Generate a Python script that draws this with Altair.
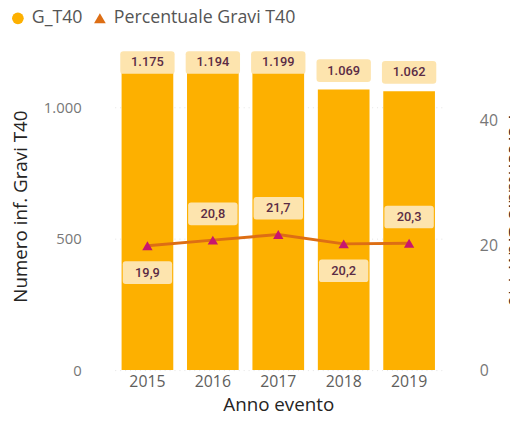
import altair as alt
import pandas as pd

anni = ["2015", "2016", "2017", "2018", "2019"]
g_t40 = [1175, 1194, 1199, 1069, 1062]
perc_gravi = [19.9, 20.8, 21.7, 20.2, 20.3]
serie = ["G_T40", "Percentuale Gravi T40"]

df = pd.DataFrame({"Anno": anni, "G": g_t40, "P": perc_gravi})
leg_df = pd.DataFrame({"Serie": serie})

FONT = "Open Sans"
BAR = "#FDB000"
LINE = "#DD6E14"
TRI = "#C8176E"
BOX = "#FDE4AE"
TXT = "#5B2C45"

box_bar = ("M-0.88,-0.418 L0.88,-0.418 Q1,-0.418 1,-0.3 L1,0.3 Q1,0.418 0.88,0.418 "
           "L-0.88,0.418 Q-1,0.418 -1,0.3 L-1,-0.3 Q-1,-0.418 -0.88,-0.418 Z")
box_line = ("M-0.88,-0.46 L0.88,-0.46 Q1,-0.46 1,-0.34 L1,0.34 Q1,0.46 0.88,0.46 "
            "L-0.88,0.46 Q-1,0.46 -1,0.34 L-1,-0.34 Q-1,-0.46 -0.88,-0.46 Z")

x_enc = alt.X(
    "Anno:O",
    scale=alt.Scale(paddingInner=0.21, paddingOuter=0.105),
    axis=alt.Axis(
        title="Anno evento", labelAngle=0, domain=False, ticks=False,
        labelFont=FONT, labelFontSize=16, labelColor="#605E5C", labelPadding=4,
        titleFont=FONT, titleFontSize=19, titleFontWeight="normal", titleColor="#252423",
        titleY=35, titleBaseline="middle",
    ),
)

axis_left = alt.Axis(
    values=[0, 500, 1000],
    labelExpr="replace(format(datum.value, ','), ',', '.')",
    domain=False, ticks=False, grid=True, gridColor="#e4e4e4", gridDash=[1, 4],
    labelFont=FONT, labelFontSize=15, labelColor="#777777", labelPadding=34,
    titleFont=FONT, titleFontSize=19, titleFontWeight="normal", titleColor="#252423",
    titleX=-95, titleY=166, titleAngle=-90, titleAlign="center", titleBaseline="middle",
)
left_scale = alt.Scale(domain=[0, 1250])
TL = "Numero inf. Gravi T40"

base = alt.Chart(df).encode(x=x_enc)

bars = base.mark_bar(color=BAR).encode(
    y=alt.Y("G:Q", scale=left_scale, axis=axis_left, title=TL)
)

bar_lab = base.transform_calculate(
    lab="min(datum.G + 72, 1172)",
    txt="replace(format(datum.G, ','), ',', '.')",
)
bar_box = bar_lab.mark_point(shape=box_bar, size=3025, filled=True, color=BOX, opacity=1).encode(
    y=alt.Y("lab:Q", scale=left_scale, axis=axis_left, title=TL)
)
bar_txt = bar_lab.mark_text(font="Roboto", fontSize=13, fontWeight=500, color=TXT, baseline="middle").encode(
    y=alt.Y("lab:Q", scale=left_scale, axis=axis_left, title=TL),
    text="txt:N",
)
left = alt.layer(bars, bar_box, bar_txt)

axis_right = alt.Axis(
    orient="right", values=[0, 20, 40], domain=False, ticks=False, grid=False,
    labelFont=FONT, labelFontSize=16, labelColor="#777777", labelPadding=38,
    titleFont=FONT, titleFontSize=19, titleFontWeight="normal", titleColor="#252423",
    titleX=63, titleY=170, titleAngle=90, titleAlign="center", titleBaseline="bottom",
)
right_scale = alt.Scale(domain=[0, 52.5])
TR = "Percentuale Gravi T40"

line = base.mark_line(color=LINE, strokeWidth=3).encode(
    y=alt.Y("P:Q", scale=right_scale, axis=axis_right, title=TR)
)
pts = base.mark_point(shape="triangle-up", filled=True, color=TRI, size=110, opacity=1).encode(
    y=alt.Y("P:Q", scale=right_scale, axis=axis_right, title=TR)
)
line_lab = base.transform_window(
    prev="lag(P)", sort=[alt.SortField("Anno")]
).transform_calculate(
    ly="(datum.prev != null && datum.P > datum.prev) ? datum.P + 4.2 : datum.P - 4.3",
    txt="replace(format(datum.P, '.1f'), '.', ',')",
)
line_box = line_lab.mark_point(shape=box_line, size=2500, filled=True, color=BOX, opacity=1).encode(
    y=alt.Y("ly:Q", scale=right_scale, axis=axis_right, title=TR)
)
line_txt = line_lab.mark_text(font="Roboto", fontSize=13, fontWeight=500, color=TXT, baseline="middle").encode(
    y=alt.Y("ly:Q", scale=right_scale, axis=axis_right, title=TR),
    text="txt:N",
)
right = alt.layer(line, pts, line_box, line_txt)

leg = alt.Legend(
    title=None, orient="none", legendX=-107, legendY=-33, direction="horizontal",
    labelFont=FONT, labelFontSize=18, labelColor="#555555", labelOffset=5, labelLimit=0,
    columnPadding=8, symbolSize=140, symbolOpacity=1, symbolStrokeWidth=0,
)
legend_layer = alt.Chart(leg_df).mark_point(filled=True, opacity=0).encode(
    color=alt.Color("Serie:N", scale=alt.Scale(domain=serie, range=[BAR, LINE]), legend=leg),
    shape=alt.Shape("Serie:N", scale=alt.Scale(domain=serie, range=["circle", "triangle-up"]), legend=leg),
)

chart = alt.layer(left, right, legend_layer).resolve_scale(y="independent").properties(
    width=331, height=332,
    autosize=alt.AutoSizeParams(type="none"),
    padding={"left": 108, "top": 32, "right": 69, "bottom": 43},
).configure(background="white", view=alt.ViewConfig(stroke=None))

chart.save("out.html", embed_options={"renderer": "svg", "actions": False})
